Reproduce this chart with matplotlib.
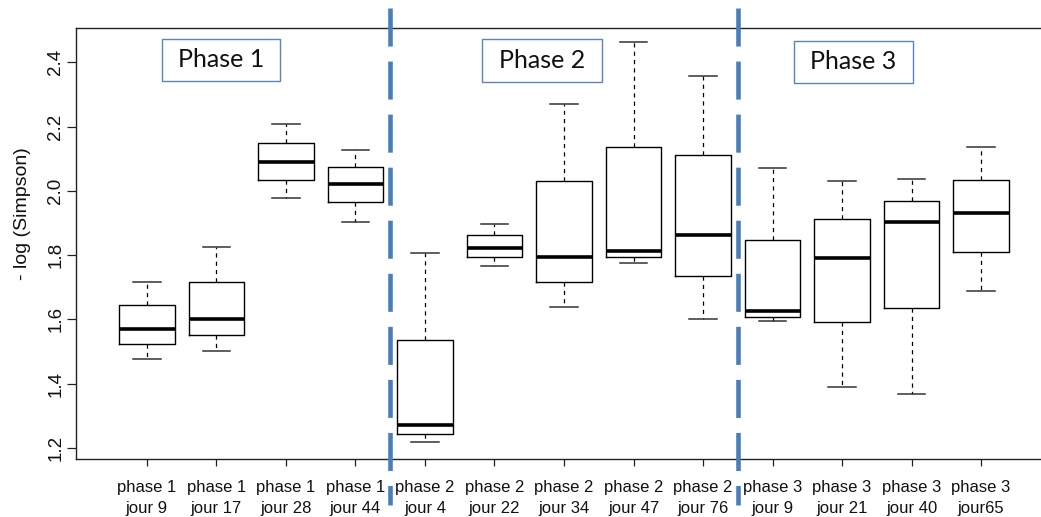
import matplotlib
matplotlib.use("Agg")
import matplotlib.pyplot as plt
from matplotlib.patches import Rectangle

# ---- data ----
labels = ["phase 1\njour 9", "phase 1\njour 17", "phase 1\njour 28", "phase 1\njour 44",
          "phase 2\njour 4", "phase 2\njour 22", "phase 2\njour 34", "phase 2\njour 47",
          "phase 2\njour 76", "phase 3\njour 9", "phase 3\njour 21", "phase 3\njour 40",
          "phase 3\njour65"]
whis_lo = [1.477, 1.501, 1.978, 1.904, 1.218, 1.767, 1.638, 1.775, 1.602, 1.595, 1.390, 1.366, 1.689]
q1      = [1.524, 1.552, 2.033, 1.964, 1.242, 1.794, 1.715, 1.794, 1.735, 1.608, 1.592, 1.635, 1.809]
median  = [1.570, 1.602, 2.089, 2.021, 1.272, 1.823, 1.794, 1.814, 1.862, 1.626, 1.791, 1.904, 1.931]
q3      = [1.644, 1.715, 2.148, 2.073, 1.536, 1.862, 2.032, 2.137, 2.110, 1.848, 1.912, 1.969, 2.033]
whis_hi = [1.717, 1.825, 2.208, 2.126, 1.806, 1.898, 2.271, 2.462, 2.358, 2.071, 2.032, 2.038, 2.135]
phase_names = ["Phase 1", "Phase 2", "Phase 3"]
phase_separators = [4.5, 9.5]
yticks = [1.2, 1.4, 1.6, 1.8, 2.0, 2.2, 2.4]

plt.rcParams['font.family'] = ['Liberation Sans', 'DejaVu Sans']
plt.rcParams['lines.scale_dashes'] = False

W, H = 1041, 517
fig = plt.figure(figsize=(W / 100, H / 100), dpi=100)

def fx(px):
    return px / W

def fy(py):
    return 1 - py / H

ax_left, ax_right, ax_top, ax_bot = 76, 1052, 28, 459.3
ax = fig.add_axes([fx(ax_left), fy(ax_bot), (ax_right - ax_left) / W, (ax_bot - ax_top) / H])

positions = list(range(1, len(labels) + 1))
stats = []
for i in range(len(labels)):
    stats.append(dict(med=median[i], q1=q1[i], q3=q3[i], whislo=whis_lo[i], whishi=whis_hi[i], fliers=[]))

ax.bxp(stats, positions=positions, widths=0.8, capwidths=0.4, showfliers=False,
       boxprops=dict(color='black', linewidth=1.0),
       medianprops=dict(color='black', linewidth=2.6, solid_capstyle='butt'),
       whiskerprops=dict(color='black', linewidth=0.9, linestyle=(0, (3, 3))),
       capprops=dict(color='#333333', linewidth=1.1))

ax.set_xlim(-0.02, 14.02)
ax.set_ylim(1.164, 2.507)

ax.spines['right'].set_visible(False)
for s in ['left', 'top', 'bottom']:
    ax.spines[s].set_linewidth(1.0)
    ax.spines[s].set_color('#222222')

ax.set_xticks(positions)
ax.set_xticklabels(labels, fontsize=12, linespacing=1.45)
ax.tick_params(axis='x', length=5, width=0.9, pad=10, colors='#222222', labelcolor='#111111')
ax.set_yticks(yticks)
ax.set_yticklabels([f"{v:.1f}" for v in yticks], fontsize=13.5, rotation=90, va='center')
ax.tick_params(axis='y', length=6.5, width=0.9, pad=2, colors='#222222', labelcolor='#111111')

# separators
for xs in phase_separators:
    ax.plot([xs, xs], [2.570, 1.0215], color='#4A7EBB', linewidth=3.3,
            linestyle=(0, (27.4, 10.8)), solid_capstyle='butt', dash_capstyle='butt',
            clip_on=False, zorder=5)

# phase label boxes (pixel boxes)
phase_boxes = [(162, 38.7, 280, 80.7), (482, 39.3, 602, 81.7), (794, 40.7, 913, 82.7)]
for name, (x0, y0, x1, y1) in zip(phase_names, phase_boxes):
    fig.add_artist(Rectangle((fx(x0), fy(y1)), (x1 - x0) / W, (y1 - y0) / H,
                             transform=fig.transFigure, facecolor='white',
                             edgecolor='#5B84B8', linewidth=1.0))
    fig.text(fx((x0 + x1) / 2), fy((y0 + y1) / 2), name, ha='center', va='center',
             fontsize=18, family=['Lato', 'DejaVu Sans'], color='#111111')

fig.text(fx(23), fy(214), "- log (Simpson)", rotation=90, ha='center', va='center',
         fontsize=14, color='#111111')

fig.savefig("out.png", dpi=100)
